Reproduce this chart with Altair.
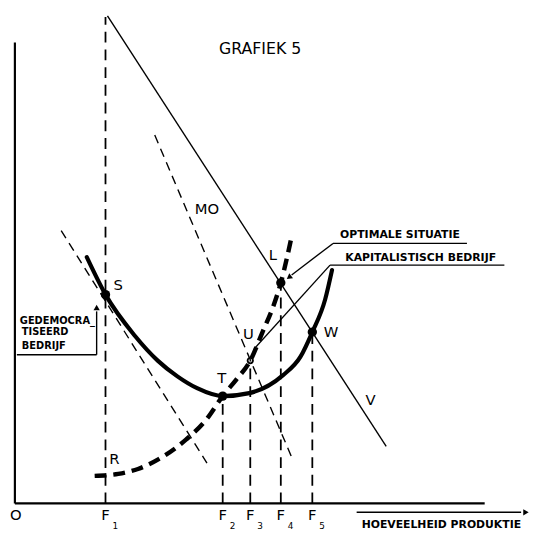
import altair as alt
import pandas as pd

# ---- values (q = quantity units, c = cost units; origin at O) ----
# thick solid cost curve (U-shaped, "kapitalistisch bedrijf")
cost_q = [73, 92, 122, 145, 165, 185, 211, 238, 272, 290, 302, 315, 322]
cost_c = [250, 212, 170, 145, 129, 117, 109, 112, 130, 149, 174, 207, 237]
# thick dashed curve R ... L
opt_q = [81, 105, 125, 146, 174, 195, 211, 225, 239, 251, 263, 270, 281]
opt_c = [28, 30, 35, 45, 65, 86, 109, 126, 145, 173, 202, 224, 271]
# straight solid line (towards V)
line_q = [94, 377]
line_c = [495, 58]
# thin dashed lines (MO through U, and tangent at S)
mo_q = [142, 281]
mo_c = [374, 47]
tan_q = [47, 195]
tan_c = [277, 41]
# vertical dashed lines F1..F5
f_names = ["1", "2", "3", "4", "5"]
f_q = [92, 211, 239, 270, 302]
f_top = [494, 109, 145, 224, 174]
# marked points
pt_names = ["S", "T", "L", "W"]
pt_q = [92, 211, 270, 302]
pt_c = [212, 109, 224, 174]
u_q = [239]
u_c = [145]
# point labels
lab_text = ["S", "T", "U", "L", "W", "R", "V", "MO"]
lab_q = [105, 210, 237, 262, 321, 101, 361, 195]
lab_c = [222, 127, 172, 252, 174, 45, 105, 299]

xs = alt.Scale(domain=[-7, 522], nice=False, zero=False)
ys = alt.Scale(domain=[-27, 499], nice=False, zero=False)


def seg(rows):
    return pd.DataFrame(rows, columns=["q", "c", "q2", "c2"])


def rules(df, **kw):
    return alt.Chart(df).mark_rule(**kw).encode(
        x=alt.X("q:Q", scale=xs, axis=None),
        y=alt.Y("c:Q", scale=ys, axis=None),
        x2="q2:Q",
        y2="c2:Q",
    )


axes_df = seg([[0, 468, 0, 0], [0, 0, 477, 0]])
thin_df = seg([
    [line_q[0], line_c[0], line_q[1], line_c[1]],
    [347, -9, 514, -9],          # arrow under axis
    [323, 264, 459, 264],        # underline OPTIMALE SITUATIE
    [323, 264, 281, 232],        # leader to L
    [320, 242, 497, 242],        # underline KAPITALISTISCH BEDRIJF
    [243, 157, 320, 242],        # leader to curve
    [2, 151, 83, 151],           # bracket bottom
    [83, 151, 83, 195],          # bracket up
])
dash_df = seg([[mo_q[0], mo_c[0], mo_q[1], mo_c[1]],
               [tan_q[0], tan_c[0], tan_q[1], tan_c[1]]])
vert_df = pd.DataFrame({"q": f_q, "c": [0] * 5, "q2": f_q, "c2": f_top})

cost_df = pd.DataFrame({"q": cost_q, "c": cost_c})
opt_df = pd.DataFrame({"q": opt_q, "c": opt_c})

X = alt.X("q:Q", scale=xs, axis=None)
Y = alt.Y("c:Q", scale=ys, axis=None)

axes = rules(axes_df, color="black", strokeWidth=2.2)
thin = rules(thin_df, color="black", strokeWidth=1.4)
dashed = rules(dash_df, color="black", strokeWidth=1.4, strokeDash=[9, 6])
verts = rules(vert_df, color="black", strokeWidth=1.8, strokeDash=[11, 7])

cost = alt.Chart(cost_df).mark_line(color="black", strokeWidth=4.2, interpolate="monotone",
                                    strokeCap="round").encode(x=X, y=Y)
opt = alt.Chart(opt_df).mark_line(color="black", strokeWidth=4.5, interpolate="monotone",
                                  strokeDash=[12, 7]).encode(x=X, y=Y)

pts = alt.Chart(pd.DataFrame({"q": pt_q, "c": pt_c, "n": pt_names})).mark_point(
    filled=True, color="black", size=90, opacity=1).encode(x=X, y=Y)
upt = alt.Chart(pd.DataFrame({"q": u_q, "c": u_c})).mark_point(
    filled=False, color="black", size=30, strokeWidth=1.8, opacity=1).encode(x=X, y=Y)

heads_df = pd.DataFrame({
    "q": [518, 279, 83],
    "c": [-9, 230, 198],
    "a": [90, 233, 0],
})
heads = alt.Chart(heads_df).mark_point(shape="triangle", filled=True, color="black",
                                       size=40, opacity=1).encode(
    x=X, y=Y, angle=alt.Angle("a:Q", scale=None))

labels = alt.Chart(pd.DataFrame({"q": lab_q, "c": lab_c, "t": lab_text})).mark_text(
    font="DejaVu Sans", fontSize=15, color="black", align="center", baseline="middle"
).encode(x=X, y=Y, text="t:N")

flabels = alt.Chart(pd.DataFrame({"q": f_q + [1], "c": [-12] * 6, "t": ["F"] * 5 + ["O"]})).mark_text(
    font="DejaVu Sans", fontSize=15, color="black", align="center", baseline="middle"
).encode(x=X, y=Y, text="t:N")
fsubs = alt.Chart(pd.DataFrame({"q": [v + 10 for v in f_q], "c": [-19] * 5, "t": f_names})).mark_text(
    font="DejaVu Sans", fontSize=9, color="black", align="center", baseline="top"
).encode(x=X, y=Y, text="t:N")

title = alt.Chart(pd.DataFrame({"q": [249], "c": [461], "t": ["GRAFIEK  5"]})).mark_text(
    font="DejaVu Sans", fontSize=16, color="black", align="center", baseline="middle"
).encode(x=X, y=Y, text="t:N")

small_df = pd.DataFrame({
    "q": [433, 391, 412],
    "c": [-22, 272, 249],
    "t": ["HOEVEELHEID PRODUKTIE", "OPTIMALE SITUATIE", "KAPITALISTISCH  BEDRIJF"],
})
small = alt.Chart(small_df).mark_text(
    font="DejaVu Sans", fontSize=11, fontWeight="bold", color="black", align="center", baseline="middle"
).encode(x=X, y=Y, text="t:N")

box_df = pd.DataFrame({"q": [5, 7, 7], "c": [185, 174, 160], "t": ["GEDEMOCRA_", "TISEERD", "BEDRIJF"]})
box = alt.Chart(box_df).mark_text(
    font="DejaVu Sans", fontSize=10, fontWeight="bold", color="black", align="left", baseline="middle"
).encode(x=X, y=Y, text="t:N")

chart = alt.layer(
    axes, verts, dashed, thin, cost, opt, pts, upt, heads,
    labels, flabels, fsubs, title, small, box
).properties(
    width=529, height=526, padding=0,
    autosize=alt.AutoSizeParams(type="none"),
    background="white",
).configure_view(stroke=None)

chart.save("out.html", embed_options={"renderer": "svg", "actions": False})
